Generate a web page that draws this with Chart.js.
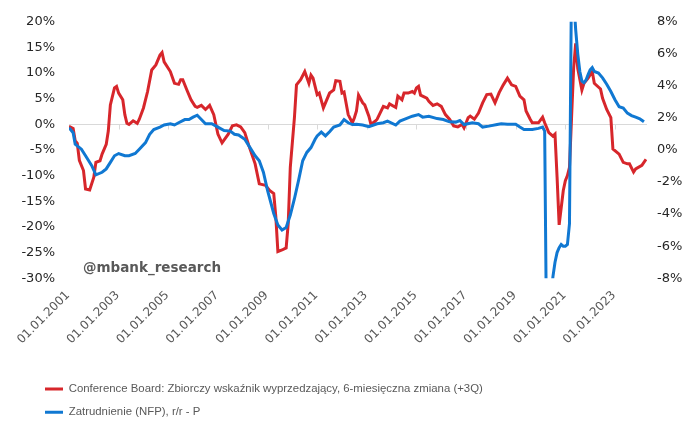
<!DOCTYPE html>
<html>
<head>
<meta charset="utf-8">
<script src="https://cdn.jsdelivr.net/npm/chart.js@4/dist/chart.umd.min.js"></script>
<style>
  html, body { margin: 0; padding: 0; background: #fff; }
</style>
</head>
<body>
<canvas id="wykres" width="697" height="430"></canvas>
<script>
// Conference Board LEI, zmiana 6m (+3Q) - lewa oś
var cbDates = [
  '2001-01','2001-03','2001-04','2001-05','2001-06','2001-08','2001-09','2001-11',
  '2002-01','2002-02','2002-04','2002-05','2002-07','2002-08','2002-09','2002-11','2002-12',
  '2003-01','2003-03','2003-04','2003-05','2003-06','2003-08','2003-10','2003-11',
  '2004-01','2004-03','2004-05','2004-07','2004-09','2004-10','2004-11',
  '2005-02','2005-04','2005-06','2005-07','2005-08','2005-10','2005-12',
  '2006-02','2006-03','2006-05','2006-07','2006-09','2006-11',
  '2007-01','2007-03','2007-06','2007-08','2007-10','2007-12',
  '2008-02','2008-04','2008-07','2008-09','2008-12',
  '2009-02','2009-04','2009-05','2009-06','2009-08','2009-10','2009-11','2009-12',
  '2010-02','2010-03','2010-05','2010-07','2010-09','2010-10','2010-11',
  '2011-01','2011-02','2011-04','2011-07','2011-09','2011-10','2011-12',
  '2012-01','2012-02','2012-04','2012-06','2012-07','2012-08','2012-09','2012-11','2012-12',
  '2013-02','2013-03','2013-05','2013-06','2013-09','2013-11','2013-12',
  '2014-03','2014-04','2014-06','2014-07','2014-09','2014-11','2014-12',
  '2015-01','2015-02','2015-03','2015-06','2015-07','2015-09','2015-11',
  '2016-01','2016-03','2016-05','2016-07','2016-09','2016-11','2016-12',
  '2017-02','2017-03','2017-05','2017-07','2017-09','2017-11',
  '2018-01','2018-03','2018-05','2018-07','2018-09','2018-11',
  '2019-01','2019-03','2019-05','2019-06','2019-08','2019-09','2019-12',
  '2020-02','2020-03','2020-05','2020-07','2020-08','2020-09','2020-10','2020-12',
  '2021-01','2021-02','2021-03','2021-04','2021-05','2021-06','2021-07','2021-09','2021-10','2021-12',
  '2022-02','2022-03','2022-06','2022-07','2022-09','2022-11','2022-12',
  '2023-03','2023-05','2023-07','2023-08','2023-10','2023-11',
  '2024-02','2024-04'
];
var cbValues = [
  -0.4, -0.8, -3.2, -3.7, -7.0, -9.0, -12.6, -12.8,
  -10.3, -7.4, -7.1, -5.8, -3.9, -1.3, 3.8, 7.1, 7.4,
  6.1, 4.8, 1.9, 0.2, 0.0, 0.7, 0.2, 1.0,
  3.2, 6.4, 10.6, 11.6, 13.5, 14.0, 12.2,
  10.3, 8.0, 7.8, 8.7, 8.7, 6.7, 4.8,
  3.5, 3.3, 3.7, 2.9, 3.7, 1.9,
  -1.9, -3.6, -1.9, -0.3, -0.1, -0.5,
  -1.6, -4.2, -7.7, -11.6, -11.9,
  -12.9, -13.5, -18.0, -24.8, -24.5, -24.1, -19.3, -8.4,
  1.3, 7.7, 8.7, 10.3, 8.0, 9.6, 9.0,
  5.8, 6.1, 3.2, 6.1, 6.7, 8.5, 8.4,
  6.1, 6.3, 1.9, 0.3, 1.3, 2.6, 5.7, 4.2, 3.8,
  1.6, 0.0, 0.6, 1.0, 3.5, 3.2, 4.0,
  3.3, 5.5, 4.8, 6.1, 6.1, 6.4, 6.1,
  7.1, 7.4, 5.7, 5.1, 4.5, 3.7, 4.0,
  3.5, 1.9, 1.0, -0.3, -0.5, 0.0, -0.7,
  1.3, 1.6, 1.0, 2.2, 4.2, 5.8,
  5.9, 4.2, 6.2, 7.7, 9.0, 7.7,
  7.4, 5.5, 4.8, 2.6, 1.0, 0.3, 0.3,
  1.4, 0.3, -1.6, -2.3, -1.9, -10.3, -19.6, -12.9,
  -11.0, -10.0, -8.4, 1.3, 10.9, 15.8, 10.9, 6.7, 8.0, 9.0,
  10.3, 8.0, 6.9, 5.1, 2.9, 1.3, -4.8,
  -5.8, -7.4, -7.7, -7.7, -9.3, -8.7,
  -8.0, -6.8
];

// Zatrudnienie NFP r/r - prawa oś
var nfpDates = [
  '2001-01','2001-03','2001-04','2001-07','2001-09','2001-12',
  '2002-02','2002-05','2002-07','2002-09','2002-11',
  '2003-01','2003-04','2003-06','2003-09','2003-11',
  '2004-02','2004-04','2004-06','2004-09','2004-11',
  '2005-02','2005-04','2005-06','2005-09','2005-11',
  '2006-01','2006-03','2006-05','2006-07','2006-10',
  '2007-01','2007-04','2007-07','2007-09','2007-11',
  '2008-02','2008-04','2008-07','2008-09','2008-11',
  '2009-01','2009-04','2009-06','2009-08','2009-10','2009-12',
  '2010-02','2010-04','2010-06','2010-08','2010-10','2010-12',
  '2011-01','2011-03','2011-05','2011-07','2011-09','2011-12',
  '2012-02','2012-04','2012-06','2012-08','2012-11',
  '2013-02','2013-06','2013-09','2013-11',
  '2014-03','2014-05','2014-08','2014-11',
  '2015-02','2015-04','2015-07','2015-11',
  '2016-02','2016-05','2016-08','2016-10','2016-12',
  '2017-04','2017-07','2017-09','2017-12',
  '2018-04','2018-06','2018-09',
  '2019-01','2019-03','2019-05','2019-09','2019-12',
  '2020-02','2020-03','2020-04','2020-05','2020-06','2020-07','2020-08','2020-09','2020-10','2020-11','2020-12',
  '2021-01','2021-02','2021-03','2021-04','2021-05','2021-06','2021-07','2021-08','2021-09','2021-10','2021-11','2021-12',
  '2022-01','2022-02','2022-03','2022-05','2022-07','2022-09','2022-11',
  '2023-01','2023-03','2023-05','2023-07','2023-09','2023-11',
  '2024-01','2024-03'
];
var nfpValues = [
  1.39, 1.08, 0.36, 0.05, -0.36, -0.98,
  -1.55, -1.39, -1.18, -0.77, -0.36,
  -0.22, -0.36, -0.36, -0.22, 0.05,
  0.46, 0.98, 1.28, 1.43, 1.56,
  1.64, 1.56, 1.7, 1.9, 1.9,
  2.05, 2.17, 1.9, 1.64, 1.64,
  1.43, 1.22, 1.18, 0.98, 0.94,
  0.67, 0.26, -0.36, -0.67, -1.39,
  -2.52, -3.96, -4.68, -4.99, -4.83, -4.06,
  -3.04, -1.9, -0.67, -0.15, 0.15, 0.67,
  0.88, 1.12, 0.88, 1.14, 1.43, 1.56,
  1.9, 1.7, 1.59, 1.6, 1.56,
  1.45, 1.64, 1.7, 1.8,
  1.56, 1.8, 1.96, 2.11,
  2.21, 2.05, 2.11, 1.96,
  1.9, 1.76, 1.74, 1.84, 1.59,
  1.7, 1.64, 1.43, 1.49,
  1.59, 1.64, 1.6,
  1.6, 1.43, 1.28, 1.28, 1.35,
  1.43, 1.18, -13.0, -11.6, -9.2, -7.9, -7.0, -6.4, -6.1, -5.9, -6.0,
  -6.0, -5.9, -4.6, 11.0, 9.5, 7.5, 6.0, 4.9, 4.3, 4.2, 4.37, 4.7,
  5.0, 5.14, 4.9, 4.8, 4.5, 4.1, 3.65,
  3.14, 2.7, 2.62, 2.3, 2.15, 2.05,
  1.95, 1.76
];

var tickYears = [2001, 2003, 2005, 2007, 2009, 2011, 2013, 2015, 2017, 2019, 2021, 2023];
var tickLabels = ['01.01.2001', '01.01.2003', '01.01.2005', '01.01.2007', '01.01.2009', '01.01.2011',
  '01.01.2013', '01.01.2015', '01.01.2017', '01.01.2019', '01.01.2021', '01.01.2023'];

var cbLabel = 'Conference Board: Zbiorczy wskaźnik wyprzedzający, 6-miesięczna zmiana (+3Q)';
var nfpLabel = 'Zatrudnienie (NFP), r/r - P';

function naRok(d) {
  var p = d.split('-');
  return Number(p[0]) + (Number(p[1]) - 1) / 12;
}
function punkty(dates, values) {
  return dates.map(function (d, i) { return { x: naRok(d), y: values[i] }; });
}

// legenda ma zaczynać się po lewej, tak jak w oryginale
var przesunLegende = {
  id: 'przesunLegende',
  afterLayout: function (chart) {
    chart.legend.left = 33;
  }
};

// kreski na linii zera + podpis
var dopiski = {
  id: 'dopiski',
  beforeDatasetsDraw: function (chart) {
    var ctx = chart.ctx;
    var x = chart.scales.x, y = chart.scales.y;
    var y0 = Math.round(y.getPixelForValue(0)) + 0.5;
    ctx.save();
    ctx.strokeStyle = '#d9d9d9';
    ctx.lineWidth = 1;
    tickYears.forEach(function (v) {
      var px = Math.round(x.getPixelForValue(v)) + 0.5;
      ctx.beginPath();
      ctx.moveTo(px, y0);
      ctx.lineTo(px, y0 + 5);
      ctx.stroke();
    });
    ctx.restore();
  },
  afterDatasetsDraw: function (chart) {
    var ctx = chart.ctx;
    var a = chart.chartArea;
    ctx.save();
    ctx.font = 'bold 13.5px "DejaVu Sans"';
    ctx.fillStyle = '#595959';
    ctx.textBaseline = 'middle';
    ctx.fillText('@mbank_research', a.left + 14, a.bottom - 9.5);
    ctx.restore();
  }
};

var ctx = document.querySelector('#wykres');
var graph = new Chart(ctx, {
  type: 'line',
  data: {
    datasets: [
      {
        label: cbLabel,
        data: punkty(cbDates, cbValues),
        borderColor: '#d7262b',
        backgroundColor: '#d7262b',
        borderWidth: 3,
        pointRadius: 0,
        tension: 0,
        yAxisID: 'y',
        order: 1
      },
      {
        label: nfpLabel,
        data: punkty(nfpDates, nfpValues),
        borderColor: '#1078d2',
        backgroundColor: '#1078d2',
        borderWidth: 3,
        pointRadius: 0,
        tension: 0,
        yAxisID: 'y1',
        order: 0
      }
    ]
  },
  options: {
    responsive: false,
    animation: false,
    devicePixelRatio: 1,
    layout: { padding: { top: 18, bottom: 2, left: 0, right: 0 } },
    plugins: {
      tooltip: { enabled: false },
      legend: {
        position: 'bottom',
        align: 'start',
        fullSize: false,
        labels: {
          sort: function (a, b) { return a.datasetIndex - b.datasetIndex; },
          usePointStyle: true,
          pointStyle: 'line',
          pointStyleWidth: 18,
          padding: 12,
          color: '#595959',
          font: { family: '"Liberation Sans", Arial, sans-serif', size: 11.4 }
        }
      }
    },
    scales: {
      x: {
        type: 'linear',
        min: 2001,
        max: 2024.29,
        afterBuildTicks: function (scale) {
          scale.ticks = tickYears.map(function (v) { return { value: v }; });
        },
        afterFit: function (scale) { scale.height = 93; },
        grid: { display: false },
        border: { display: false },
        ticks: {
          autoSkip: false,
          minRotation: 45,
          maxRotation: 45,
          padding: 2,
          labelOffset: -1,
          color: '#595959',
          font: { family: '"DejaVu Sans", Verdana, sans-serif', size: 12 },
          callback: function (v, i) { return tickLabels[i]; }
        }
      },
      y: {
        position: 'left',
        min: -30,
        max: 20,
        afterFit: function (scale) { scale.width = 69; },
        border: { display: false },
        grid: {
          drawTicks: false,
          color: function (c) { return c.tick && c.tick.value === 0 ? '#d9d9d9' : 'rgba(0,0,0,0)'; }
        },
        ticks: {
          stepSize: 5,
          padding: 14,
          color: '#262626',
          font: { family: '"DejaVu Sans", Verdana, sans-serif', size: 13 },
          callback: function (v) { return v + '%'; }
        }
      },
      y1: {
        position: 'right',
        min: -8,
        max: 8,
        afterFit: function (scale) { scale.width = 50; },
        border: { display: false },
        grid: { display: false, drawTicks: false },
        ticks: {
          stepSize: 2,
          padding: 10,
          color: '#262626',
          font: { family: '"DejaVu Sans", Verdana, sans-serif', size: 13 },
          callback: function (v) { return v + '%'; }
        }
      }
    }
  },
  plugins: [przesunLegende, dopiski]
});
</script>
</body>
</html>
